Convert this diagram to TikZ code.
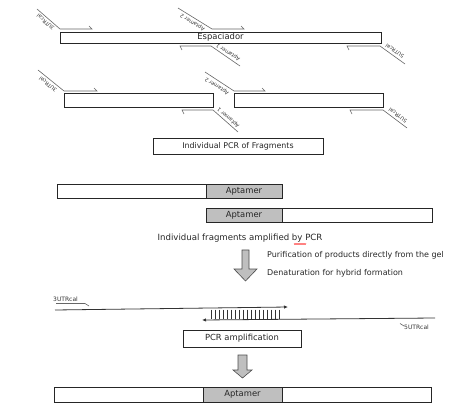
\documentclass[tikz,border=0pt]{standalone}
\usepackage{fontspec}
\setmainfont{DejaVu Sans}
\usetikzlibrary{arrows.meta}
\begin{document}
\begin{tikzpicture}[x=1pt,y=-1pt,
  box/.style={draw=black!85, line width=0.8pt, inner sep=0pt, outer sep=0pt, anchor=north west, font=\fontsize{8.4}{10}\selectfont, text=black!85},
  aptbox/.style={box, fill=black!25},
  primer/.style={draw=black!60, line width=0.6pt},
  plabel/.style={font=\fontsize{5.2}{6}\selectfont, inner sep=0pt, text=black!80},
  txt/.style={font=\fontsize{8}{10}\selectfont, inner sep=0pt, text=black!85},
  blockarrow/.style={draw=black!70, fill=black!25, line width=0.6pt, line join=miter},
  strand/.style={draw=black!80, line width=0.8pt, -{Latex[length=4pt,width=3.5pt]}}]
\useasboundingbox (0,0) rectangle (461,417);

% ---------- Row 1: spacer with primers ----------
\node[box, minimum width=321pt, minimum height=11pt] (esp) at (60,32) {Espaciador};
% 3UTRcal
\coordinate (p1a) at (37,9); \coordinate (p1b) at (60,29); \coordinate (p1c) at (92,29);
\draw[primer] (p1a) -- (p1b) -- (p1c) -- +(-3,-3);
\node[plabel, rotate=139] (l1) at (45.6,22.3) {3UTRcal};
% Aptamer 2
\coordinate (p2a) at (178,8); \coordinate (p2b) at (212,29); \coordinate (p2c) at (244,29);
\draw[primer] (p2a) -- (p2b) -- (p2c) -- +(-3,-3);
\node[plabel, rotate=148.3] (l2) at (192.6,22.4) {Aptamer 2};
% Aptamer 1
\coordinate (p3a) at (240,66); \coordinate (p3b) at (211,46); \coordinate (p3c) at (180,46);
\draw[primer] (p3a) -- (p3b) -- (p3c) -- +(2,4);
\node[plabel, rotate=145.4] (l3) at (228.2,52.2) {Aptamer 1};
% 5UTRcal
\coordinate (p4a) at (405,64); \coordinate (p4b) at (380,46); \coordinate (p4c) at (347,46);
\draw[primer] (p4a) -- (p4b) -- (p4c) -- +(2,4);
\node[plabel, rotate=145.3] (l4) at (394.8,51.2) {5UTRcal};

% ---------- Row 2: two fragments ----------
\node[box, minimum width=149pt, minimum height=14pt] (fragL) at (64,93) {};
\node[box, minimum width=149pt, minimum height=14pt] (fragR) at (234,93) {};
% 3UTRcal
\coordinate (q1a) at (38,70); \coordinate (q1b) at (64,91); \coordinate (q1c) at (97,91);
\draw[primer] (q1a) -- (q1b) -- (q1c) -- +(-3,-3);
\node[plabel, rotate=139.8] (m1) at (48,84.5) {3UTRcal};
% Aptamer 2
\coordinate (q2a) at (205,72); \coordinate (q2b) at (234,91); \coordinate (q2c) at (265,91);
\draw[primer] (q2a) -- (q2b) -- (q2c) -- +(-3,-3);
\node[plabel, rotate=146.8] (m2) at (217,86.2) {Aptamer 2};
% Aptamer 1
\coordinate (q3a) at (238,132); \coordinate (q3b) at (213,110); \coordinate (q3c) at (182,110);
\draw[primer] (q3a) -- (q3b) -- (q3c) -- +(2,4);
\node[plabel, rotate=138.7] (m3) at (228.5,117.6) {Aptamer 1};
% 5UTRcal
\coordinate (q4a) at (407,128); \coordinate (q4b) at (383,110); \coordinate (q4c) at (350,110);
\draw[primer] (q4a) -- (q4b) -- (q4c) -- +(2,4);
\node[plabel, rotate=143.1] (m4) at (397.8,115.4) {5UTRcal};

\node[box, minimum width=170pt, minimum height=16pt, font=\fontsize{7.9}{9}\selectfont] (ipcr) at (153,138) {Individual PCR of Fragments};

% ---------- Row 3: amplified fragments ----------
\node[box, minimum width=149pt, minimum height=14pt] (a1w) at (57,184) {};
\node[aptbox, minimum width=76pt, minimum height=14pt] (a1g) at (206,184) {Aptamer};
\node[aptbox, minimum width=76pt, minimum height=14pt] (a2g) at (206,208) {Aptamer};
\node[box, minimum width=150pt, minimum height=14pt] (a2w) at (282,208) {};
\node[txt, font=\fontsize{8.6}{10}\selectfont] (amp) at (240,238) {Individual fragments amplified by PCR};
\draw[red, line width=0.4pt] (294,243.5) -- (295,244.5) -- (296,243.5) -- (297,244.5) -- (298,243.5) -- (299,244.5) -- (300,243.5) -- (301,244.5) -- (302,243.5) -- (303,244.5) -- (304,243.5) -- (305,244.5) -- (306,243.5);

% block arrow 1
\draw[blockarrow] (242,250) -- (249,250) -- (249,269) -- (257,269) -- (245.5,281) -- (234,269) -- (242,269) -- cycle;
\node[txt, anchor=west] (pur) at (267,255) {Purification of products directly from the gel};
\node[txt, anchor=west] (den) at (267,273) {Denaturation for hybrid formation};

% ---------- Hybrid ----------
\node[plabel, anchor=base west, font=\fontsize{6}{7}\selectfont] (h3) at (53,301) {3UTRcal};
\draw[primer] (56,303.5) -- (85,303.5) -- (89,306);
\coordinate (s1a) at (55,310); \coordinate (s1b) at (288,307);
\draw[strand] (s1a) -- (s1b);
\coordinate (s2a) at (435,318); \coordinate (s2b) at (202,320);
\draw[strand] (s2a) -- (s2b);
\foreach \x in {211,215,...,279} \draw[black!80, line width=0.6pt] (\x,309.5) -- (\x,318.5);
\node[plabel, anchor=base west, font=\fontsize{6}{7}\selectfont] (h5) at (404,329) {5UTRcal};
\draw[primer] (404,326) -- (400,323.5);

\node[box, minimum width=118pt, minimum height=17pt] (pcramp) at (183,330) {PCR amplification};

% block arrow 2
\draw[blockarrow] (238,355) -- (247,355) -- (247,370) -- (252,370) -- (242.5,378) -- (233,370) -- (238,370) -- cycle;

% ---------- Final product ----------
\node[box, minimum width=149pt, minimum height=15pt] (f1) at (54,387) {};
\node[aptbox, minimum width=79pt, minimum height=15pt] (f2) at (203,387) {Aptamer};
\node[box, minimum width=149pt, minimum height=15pt] (f3) at (282,387) {};
\end{tikzpicture}
\end{document}
